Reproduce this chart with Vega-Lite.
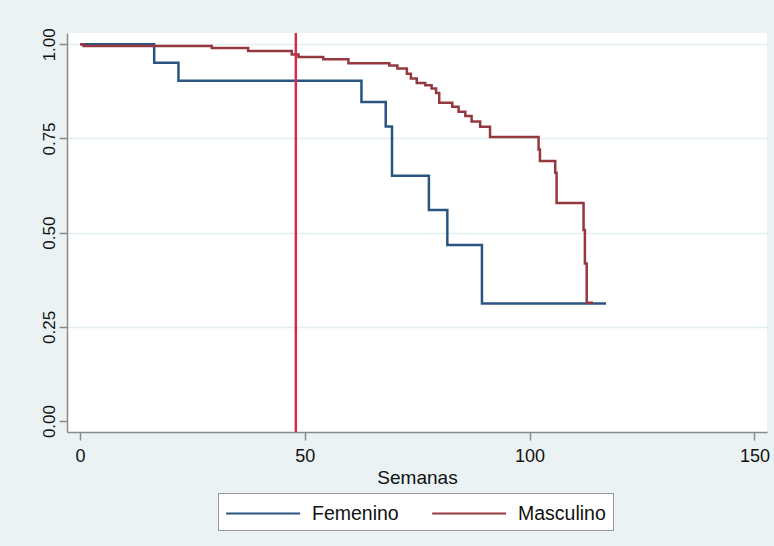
{
  "$schema": "https://vega.github.io/schema/vega-lite/v6.json",
  "width": 700,
  "height": 399,
  "autosize": {"type": "none"},
  "padding": {"left": 67, "top": 33, "right": 7, "bottom": 114},
  "background": "#eaf2f3",
  "config": {
    "view": {"fill": "white", "stroke": null},
    "font": "Liberation Sans"
  },
  "datasets": {
    "km": [
      {"semanas": 0, "supervivencia": 1.0, "sexo": "Femenino"},
      {"semanas": 16.5, "supervivencia": 0.951, "sexo": "Femenino"},
      {"semanas": 21.9, "supervivencia": 0.903, "sexo": "Femenino"},
      {"semanas": 62.6, "supervivencia": 0.847, "sexo": "Femenino"},
      {"semanas": 68.0, "supervivencia": 0.782, "sexo": "Femenino"},
      {"semanas": 69.4, "supervivencia": 0.651, "sexo": "Femenino"},
      {"semanas": 77.6, "supervivencia": 0.560, "sexo": "Femenino"},
      {"semanas": 81.7, "supervivencia": 0.467, "sexo": "Femenino"},
      {"semanas": 89.4, "supervivencia": 0.312, "sexo": "Femenino"},
      {"semanas": 117.0, "supervivencia": 0.312, "sexo": "Femenino"},
      {"semanas": 0, "supervivencia": 1.0, "sexo": "Masculino"},
      {"semanas": 0.8, "supervivencia": 0.9955, "sexo": "Masculino"},
      {"semanas": 29.3, "supervivencia": 0.990, "sexo": "Masculino"},
      {"semanas": 37.4, "supervivencia": 0.982, "sexo": "Masculino"},
      {"semanas": 47.1, "supervivencia": 0.973, "sexo": "Masculino"},
      {"semanas": 48.6, "supervivencia": 0.966, "sexo": "Masculino"},
      {"semanas": 54.1, "supervivencia": 0.960, "sexo": "Masculino"},
      {"semanas": 59.7, "supervivencia": 0.950, "sexo": "Masculino"},
      {"semanas": 68.8, "supervivencia": 0.944, "sexo": "Masculino"},
      {"semanas": 70.6, "supervivencia": 0.9355, "sexo": "Masculino"},
      {"semanas": 72.7, "supervivencia": 0.922, "sexo": "Masculino"},
      {"semanas": 73.6, "supervivencia": 0.909, "sexo": "Masculino"},
      {"semanas": 74.9, "supervivencia": 0.897, "sexo": "Masculino"},
      {"semanas": 76.8, "supervivencia": 0.891, "sexo": "Masculino"},
      {"semanas": 78.2, "supervivencia": 0.8825, "sexo": "Masculino"},
      {"semanas": 79.2, "supervivencia": 0.871, "sexo": "Masculino"},
      {"semanas": 79.9, "supervivencia": 0.845, "sexo": "Masculino"},
      {"semanas": 82.8, "supervivencia": 0.834, "sexo": "Masculino"},
      {"semanas": 84.2, "supervivencia": 0.821, "sexo": "Masculino"},
      {"semanas": 85.7, "supervivencia": 0.810, "sexo": "Masculino"},
      {"semanas": 87.1, "supervivencia": 0.795, "sexo": "Masculino"},
      {"semanas": 89.0, "supervivencia": 0.781, "sexo": "Masculino"},
      {"semanas": 91.2, "supervivencia": 0.754, "sexo": "Masculino"},
      {"semanas": 102.0, "supervivencia": 0.721, "sexo": "Masculino"},
      {"semanas": 102.3, "supervivencia": 0.690, "sexo": "Masculino"},
      {"semanas": 105.7, "supervivencia": 0.659, "sexo": "Masculino"},
      {"semanas": 106.0, "supervivencia": 0.579, "sexo": "Masculino"},
      {"semanas": 112.0, "supervivencia": 0.507, "sexo": "Masculino"},
      {"semanas": 112.3, "supervivencia": 0.418, "sexo": "Masculino"},
      {"semanas": 112.7, "supervivencia": 0.314, "sexo": "Masculino"},
      {"semanas": 114.1, "supervivencia": 0.314, "sexo": "Masculino"}
    ],
    "corte": [{"semanas": 48}]
  },
  "layer": [
    {
      "data": {"name": "km"},
      "mark": {"type": "line", "interpolate": "step-after", "strokeWidth": 2.5},
      "encoding": {
        "x": {
          "field": "semanas",
          "type": "quantitative",
          "scale": {"domain": [-2.89, 152.8], "nice": false, "zero": false},
          "axis": {
            "values": [0, 50, 100, 150],
            "grid": false,
            "title": "Semanas",
            "titleFontSize": 19,
            "titleFontWeight": "normal",
            "titleColor": "#111",
            "titlePadding": 3,
            "labelFontSize": 18,
            "labelColor": "#111",
            "labelPadding": 7,
            "tickSize": 8,
            "tickColor": "#8a8a8a",
            "tickWidth": 1.5,
            "domainColor": "#8a8a8a",
            "domainWidth": 1.5
          }
        },
        "y": {
          "field": "supervivencia",
          "type": "quantitative",
          "scale": {"domain": [-0.029, 1.03], "nice": false, "zero": false},
          "axis": {
            "values": [0, 0.25, 0.5, 0.75, 1],
            "format": ".2f",
            "title": null,
            "grid": true,
            "gridColor": "#e4edef",
            "gridWidth": 1.5,
            "gridOpacity": {"condition": {"test": "datum.value === 0", "value": 0}, "value": 1},
            "labelAngle": 270,
            "labelAlign": "center",
            "labelBaseline": "bottom",
            "labelFontSize": 17,
            "labelColor": "#111",
            "labelPadding": 1,
            "tickSize": 8,
            "tickColor": "#8a8a8a",
            "tickWidth": 1.5,
            "domainColor": "#8a8a8a",
            "domainWidth": 1.5
          }
        },
        "color": {
          "field": "sexo",
          "type": "nominal",
          "scale": {"domain": ["Femenino", "Masculino"], "range": ["#2a5580", "#953840"]},
          "legend": {
            "orient": "none",
            "legendX": 151,
            "legendY": 460,
            "direction": "horizontal",
            "title": null,
            "symbolType": "M-1,0H5",
            "symbolSize": 608,
            "symbolStrokeWidth": 2,
            "labelFontSize": 19.5,
            "labelColor": "#111",
            "labelOffset": 60,
            "labelLimit": 300,
            "columnPadding": 29,
            "padding": 7,
            "strokeColor": "#999",
            "fillColor": "white"
          }
        }
      }
    },
    {
      "data": {"name": "corte"},
      "mark": {"type": "rule", "color": "#d62c50", "strokeWidth": 2.5},
      "encoding": {
        "x": {"field": "semanas", "type": "quantitative"}
      }
    }
  ]
}
